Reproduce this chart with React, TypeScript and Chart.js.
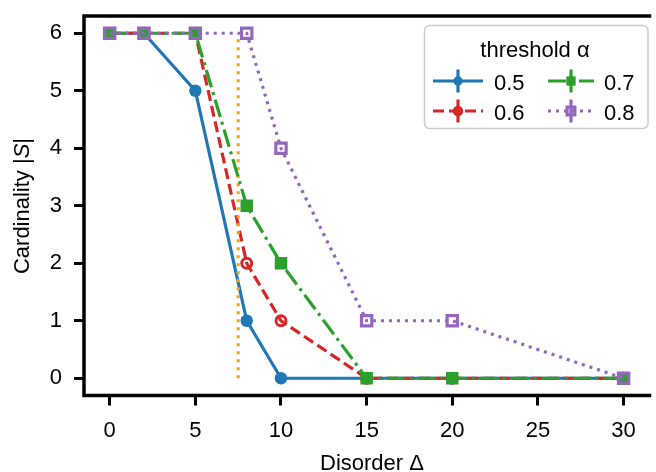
import React, { useEffect, useRef } from "react";
import { Chart, registerables } from "chart.js";

Chart.register(...registerables);

// Disorder strengths that were sampled
const disorder = [0, 2, 5, 8, 10, 15, 20, 30];
// Cardinality |S| for each threshold alpha
const cardinality05 = [6, 6, 5, 1, 0, 0, 0, 0];
const cardinality06 = [6, 6, 6, 2, 1, 0, 0, 0];
const cardinality07 = [6, 6, 6, 3, 2, 0, 0, 0];
const cardinality08 = [6, 6, 6, 6, 4, 1, 1, 0];
const thresholdLabels = ["0.5", "0.6", "0.7", "0.8"];
// Vertical reference line
const criticalDisorder = 7.5;
const criticalSpan = [0, 6];
// Axis ticks
const xTickValues = [0, 5, 10, 15, 20, 25, 30];
const yTickValues = [0, 1, 2, 3, 4, 5, 6];

const FONT = '"Liberation Sans", Arial, Helvetica, sans-serif';
const FONT_SIZE = 22;
const BLUE = "#1f77b4";
const RED = "#d62728";
const GREEN = "#2ca02c";
const PURPLE = "#9467bd";
const ORANGE = "#ffa500";

const LINE_W = 3.2;
const SOLID: number[] = [];
const DASHED = [11, 5];
const DASHDOT = [18, 5, 3, 5];
const DOTTED = [3, 5];

type SeriesStyle = {
  color: string;
  dash: number[];
  marker: "circle" | "rect";
  radius: number;
  hollow: boolean;
  edge: number;
};

const seriesStyles: SeriesStyle[] = [
  { color: BLUE, dash: SOLID, marker: "circle", radius: 6.2, hollow: false, edge: 0 },
  { color: RED, dash: DASHED, marker: "circle", radius: 5, hollow: true, edge: 3 },
  { color: GREEN, dash: DASHDOT, marker: "rect", radius: 8.8, hollow: false, edge: 0 },
  { color: PURPLE, dash: DOTTED, marker: "rect", radius: 7.3, hollow: true, edge: 3.2 },
];

const seriesValues = [cardinality05, cardinality06, cardinality07, cardinality08];

function toPoints(ys: number[]) {
  return disorder.map((x, i) => ({ x, y: ys[i] }));
}

// Axes frame: left, bottom and top spines (the right one falls outside the canvas)
const framePlugin = {
  id: "frame",
  afterDraw(chart: any) {
    const { ctx, chartArea } = chart;
    const { left, right, top, bottom } = chartArea;
    ctx.save();
    ctx.strokeStyle = "#000";
    ctx.lineWidth = 3.5;
    ctx.lineCap = "square";
    ctx.beginPath();
    ctx.moveTo(right + 4, top);
    ctx.lineTo(left, top);
    ctx.lineTo(left, bottom);
    ctx.lineTo(right + 4, bottom);
    ctx.stroke();
    ctx.restore();
  },
};

// Axis titles, with the math symbols set apart
const titlesPlugin = {
  id: "axisTitles",
  afterDraw(chart: any) {
    const ctx: CanvasRenderingContext2D = chart.ctx;
    ctx.save();
    ctx.fillStyle = "#000";
    ctx.textBaseline = "alphabetic";
    const normal = `${FONT_SIZE}px ${FONT}`;
    const italic = `italic ${FONT_SIZE}px ${FONT}`;

    // x title
    ctx.font = normal;
    ctx.textAlign = "center";
    ctx.fillText("Disorder \u0394", 372, 470);

    // y title, rotated
    const parts: [string, string][] = [
      ["Cardinality |", normal],
      ["S", italic],
      ["|", normal],
    ];
    let total = 0;
    const widths = parts.map(([t, f]) => {
      ctx.font = f;
      const w = ctx.measureText(t).width;
      total += w;
      return w;
    });
    ctx.translate(29, 206);
    ctx.rotate(-Math.PI / 2);
    ctx.textAlign = "left";
    let x = -total / 2;
    parts.forEach(([t, f], i) => {
      ctx.font = f;
      ctx.fillText(t, x, 0);
      x += widths[i];
    });
    ctx.restore();
  },
};

function drawMarker(ctx: CanvasRenderingContext2D, s: SeriesStyle, cx: number, cy: number, scale: number) {
  ctx.save();
  ctx.setLineDash([]);
  ctx.beginPath();
  if (s.marker === "circle") {
    ctx.arc(cx, cy, s.radius * scale, 0, Math.PI * 2);
  } else {
    const h = s.radius * Math.SQRT1_2 * scale;
    ctx.rect(cx - h, cy - h, 2 * h, 2 * h);
  }
  if (!s.hollow) {
    ctx.fillStyle = s.color;
    ctx.fill();
  } else {
    ctx.strokeStyle = s.color;
    ctx.lineWidth = s.edge;
    ctx.stroke();
  }
  ctx.restore();
}

// Legend box with a title and two columns of entries
const legendPlugin = {
  id: "thresholdLegend",
  afterDatasetsDraw(chart: any) {
    const ctx: CanvasRenderingContext2D = chart.ctx;
    ctx.save();
    const bx = 424.5, by = 25.5, bw = 223.5, bh = 103, r = 5;
    ctx.beginPath();
    ctx.moveTo(bx + r, by);
    ctx.arcTo(bx + bw, by, bx + bw, by + bh, r);
    ctx.arcTo(bx + bw, by + bh, bx, by + bh, r);
    ctx.arcTo(bx, by + bh, bx, by, r);
    ctx.arcTo(bx, by, bx + bw, by, r);
    ctx.closePath();
    ctx.fillStyle = "rgba(255,255,255,0.8)";
    ctx.fill();
    ctx.strokeStyle = "#cccccc";
    ctx.lineWidth = 1.5;
    ctx.stroke();

    ctx.fillStyle = "#000";
    ctx.font = `${FONT_SIZE}px ${FONT}`;
    ctx.textAlign = "center";
    ctx.textBaseline = "alphabetic";
    ctx.fillText("threshold \u03b1", 535, 57);

    const cols = [
      { x0: 433, x1: 483, tx: 494 },
      { x0: 548, x1: 594, tx: 604 },
    ];
    const rows = [{ cy: 81, base: 90 }, { cy: 111, base: 120 }];
    // column-major order: 0.5, 0.6 | 0.7, 0.8
    thresholdLabels.forEach((label, i) => {
      const col = cols[Math.floor(i / 2)];
      const row = rows[i % 2];
      const s = seriesStyles[i];
      const mid = (col.x0 + col.x1) / 2;
      ctx.save();
      ctx.strokeStyle = s.color;
      ctx.lineWidth = LINE_W;
      ctx.setLineDash(s.dash);
      ctx.beginPath();
      ctx.moveTo(col.x0, row.cy);
      ctx.lineTo(col.x1, row.cy);
      ctx.stroke();
      ctx.setLineDash([]);
      ctx.beginPath();
      ctx.moveTo(mid, row.cy - 11.5);
      ctx.lineTo(mid, row.cy + 11.5);
      ctx.stroke();
      ctx.restore();
      drawMarker(ctx, s, mid, row.cy, 0.75);
      ctx.fillStyle = "#000";
      ctx.textAlign = "left";
      ctx.fillText(label, col.tx, row.base);
    });
    ctx.restore();
  },
};

export default function App() {
  const canvasRef = useRef<HTMLCanvasElement>(null);

  useEffect(() => {
    const canvas = canvasRef.current;
    if (!canvas) return;

    const seriesDatasets = seriesValues.map((ys, i) => {
      const s = seriesStyles[i];
      return {
        label: thresholdLabels[i],
        data: toPoints(ys),
        showLine: true,
        borderColor: s.color,
        borderWidth: LINE_W,
        borderDash: s.dash,
        backgroundColor: s.color,
        pointStyle: s.marker,
        pointRadius: s.radius,
        pointHoverRadius: s.radius,
        pointBackgroundColor: s.hollow ? "rgba(0,0,0,0)" : s.color,
        pointBorderColor: s.color,
        pointBorderWidth: s.edge,
        tension: 0,
        order: 10 - i,
      };
    });

    const criticalLine = {
      label: "critical",
      data: criticalSpan.map((y) => ({ x: criticalDisorder, y })),
      showLine: true,
      borderColor: ORANGE,
      borderWidth: LINE_W,
      borderDash: DOTTED,
      pointRadius: 0,
      pointHoverRadius: 0,
      order: 8,
    };

    const tickFont = { family: FONT, size: FONT_SIZE };

    const chart = new Chart(canvas, {
      type: "scatter",
      data: { datasets: [...seriesDatasets, criticalLine] as any },
      options: {
        responsive: false,
        animation: false,
        devicePixelRatio: 1,
        layout: { padding: { top: 16, right: 0, left: 0, bottom: 0 } },
        plugins: {
          legend: { display: false },
          tooltip: { enabled: false },
        },
        scales: {
          x: {
            type: "linear",
            min: -1.5,
            max: 31.28,
            afterBuildTicks: (s: any) => {
              s.ticks = xTickValues.map((v) => ({ value: v }));
            },
            afterFit: (s: any) => {
              s.height = 76.5;
              s.paddingLeft = 0;
              s.paddingRight = 0;
            },
            ticks: { font: tickFont, color: "#000", padding: 12, maxRotation: 0, autoSkip: false },
            grid: {
              display: true,
              drawOnChartArea: false,
              drawTicks: true,
              tickLength: 10,
              tickWidth: 3,
              tickColor: "#000",
            },
            border: { display: false },
          },
          y: {
            type: "linear",
            min: -0.3,
            max: 6.3,
            afterBuildTicks: (s: any) => {
              s.ticks = yTickValues.map((v) => ({ value: v }));
            },
            afterFit: (s: any) => {
              s.width = 84;
              s.paddingTop = 0;
              s.paddingBottom = 0;
            },
            ticks: { font: tickFont, color: "#000", padding: 12, autoSkip: false },
            grid: {
              display: true,
              drawOnChartArea: false,
              drawTicks: true,
              tickLength: 10,
              tickWidth: 3,
              tickColor: "#000",
            },
            border: { display: false },
          },
        },
      } as any,
      plugins: [framePlugin, titlesPlugin, legendPlugin],
    });

    return () => chart.destroy();
  }, []);

  return (
    <div style={{ position: "fixed", left: 0, top: 0, width: 656, height: 472, background: "#fff", overflow: "hidden" }}>
      <canvas ref={canvasRef} width={656} height={472} style={{ width: 656, height: 472, display: "block" }} />
    </div>
  );
}
